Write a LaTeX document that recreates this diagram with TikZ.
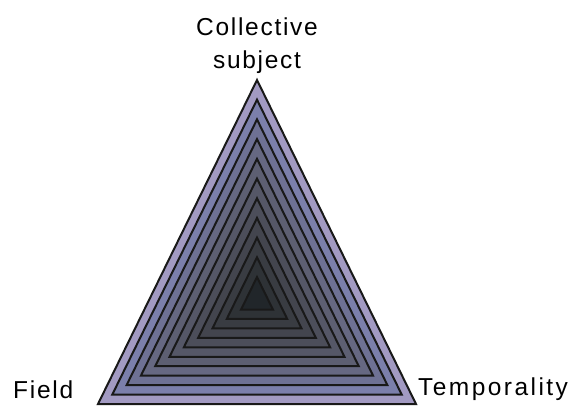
\documentclass[tikz,border=0pt]{standalone}
\usepackage{fontspec}
\newfontfamily\lblfont{Liberation Sans}[LetterSpace=7]
\newfontfamily\widefont{Liberation Sans}[LetterSpace=10]
\usetikzlibrary{calc}

\definecolor{tri0}{HTML}{A29AC2}
\definecolor{tri1}{HTML}{7B7FAB}
\definecolor{tri2}{HTML}{6E7194}
\definecolor{tri3}{HTML}{666882}
\definecolor{tri4}{HTML}{5D5F72}
\definecolor{tri5}{HTML}{555767}
\definecolor{tri6}{HTML}{4C4E5A}
\definecolor{tri7}{HTML}{43454E}
\definecolor{tri8}{HTML}{393C42}
\definecolor{tri9}{HTML}{2E3236}
\definecolor{tri10}{HTML}{21262A}

\begin{document}
\begin{tikzpicture}[x=1pt,y=-1pt,
  tri/.style={draw=black!90, line width=2pt, line join=miter},
  lbl/.style={font=\lblfont\fontsize{24.5}{33}\selectfont, inner sep=0pt}]
\useasboundingbox (0,0) rectangle (576,406);

\coordinate (A) at (257,80);   % apex
\coordinate (B) at (98,404);   % left corner
\coordinate (C) at (416,404);  % right corner
\coordinate (O) at (257,299);  % centre of the nesting


% TRIANGLES
\foreach \k in {0,...,10}{
  \pgfmathsetmacro{\s}{1-0.09*\k}
  \draw[tri, fill=tri\k] ($(O)!\s!(A)$) -- ($(O)!\s!(B)$) -- ($(O)!\s!(C)$) -- cycle;
}


% LABELS
\node[lbl, align=center, anchor=north] (subj) at (257,17.5) {Collective\\subject};
\node[lbl, anchor=base west] (fld) at (13,398) {Field};
\node[lbl, font=\widefont\fontsize{24.5}{33}\selectfont, anchor=base west] (tmp) at (418,395) {Temporality};

\end{tikzpicture}
\end{document}
